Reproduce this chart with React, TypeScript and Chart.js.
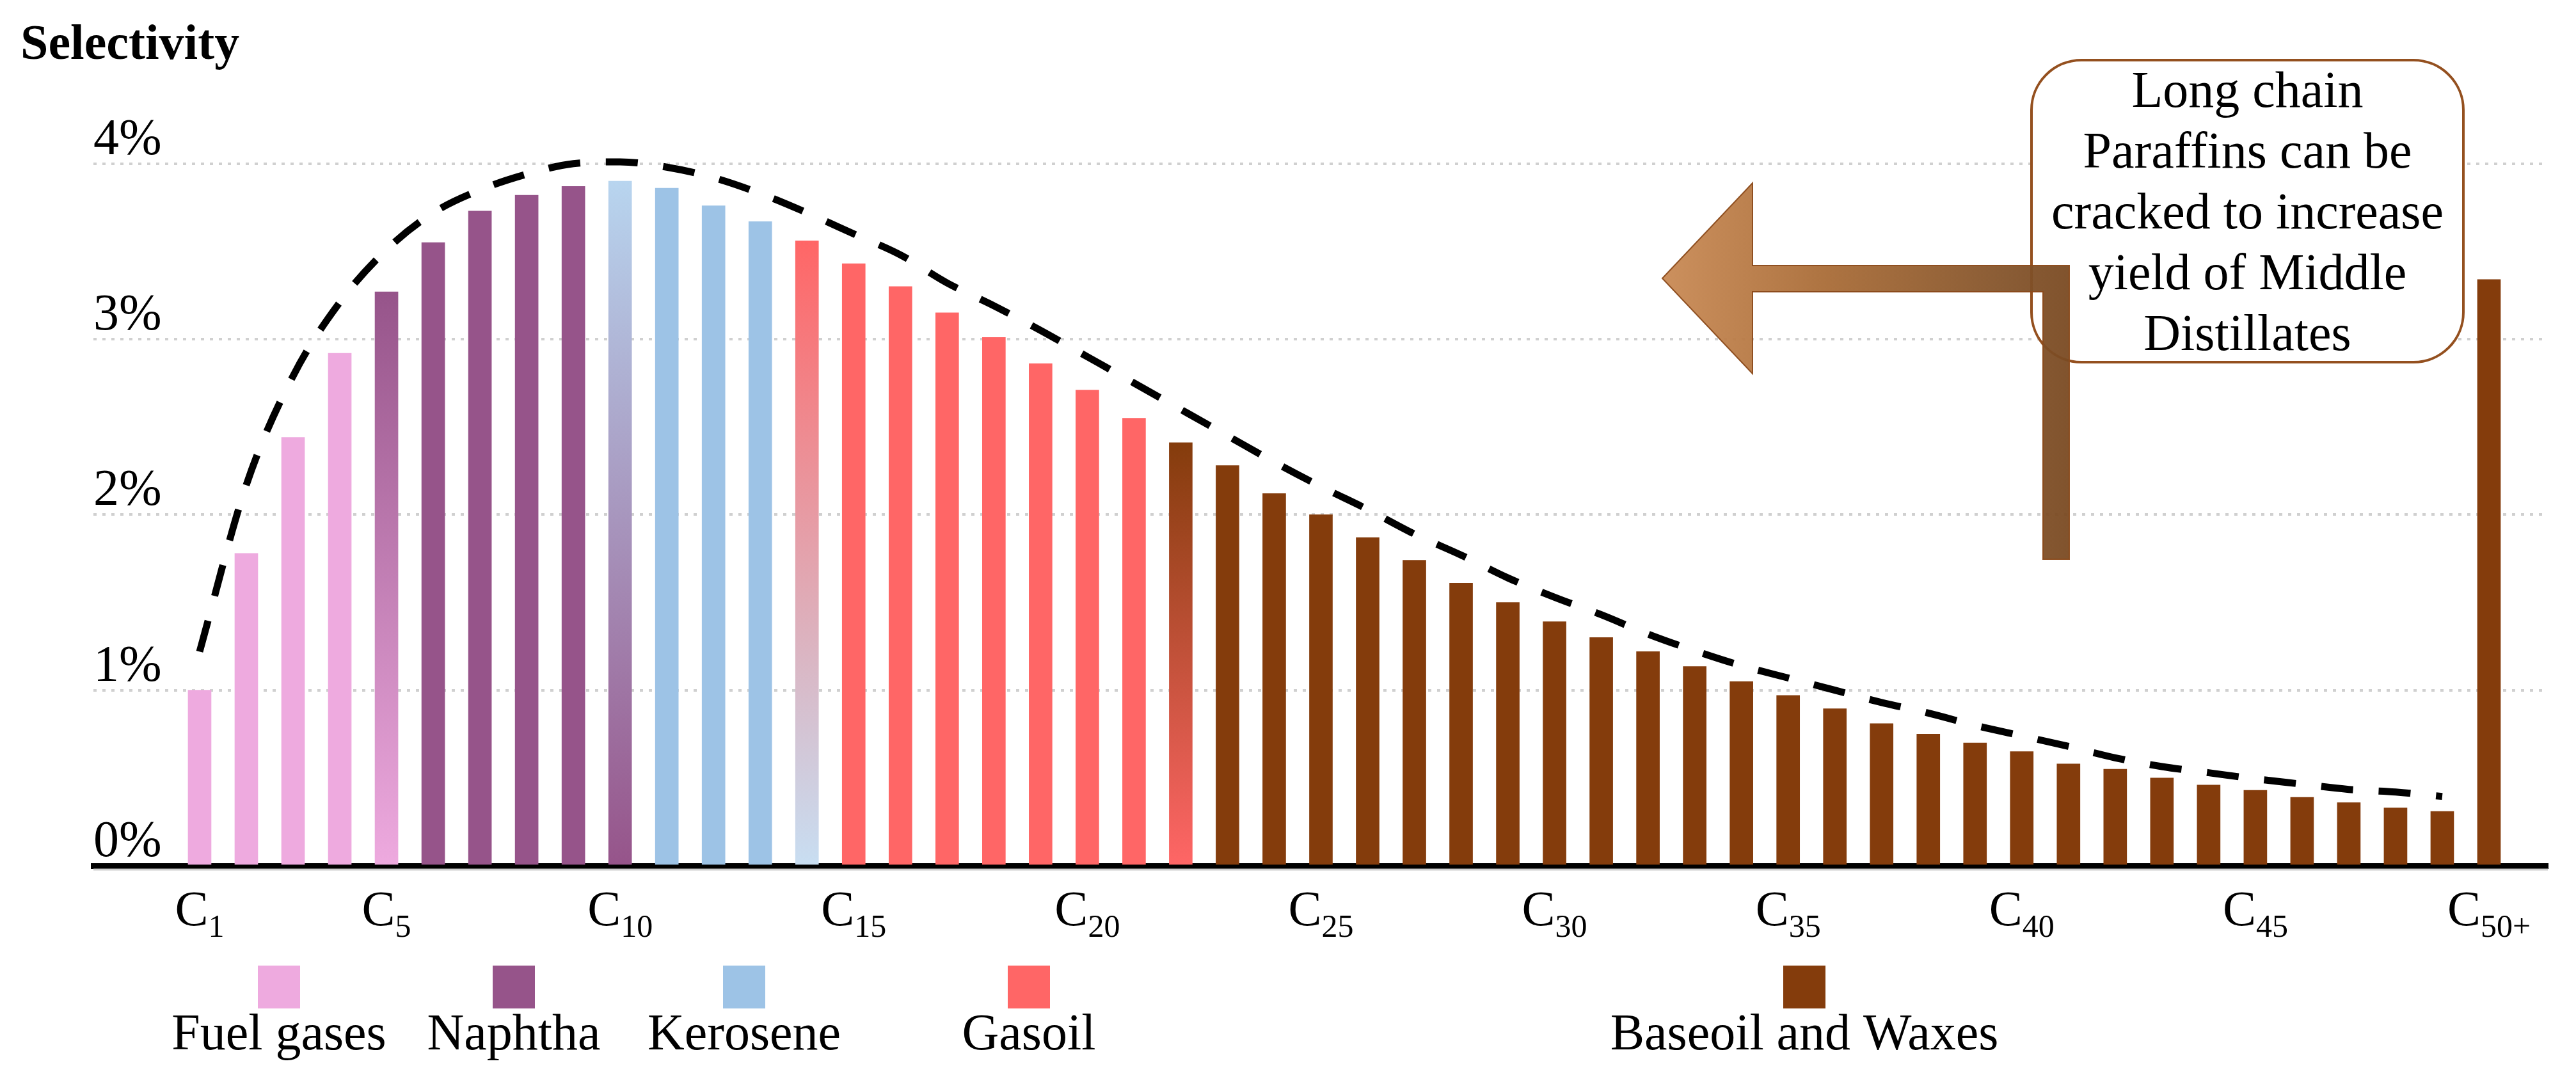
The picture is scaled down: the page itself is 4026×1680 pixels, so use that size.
import React, { useEffect, useRef } from 'react';
import { Chart, registerables } from 'chart.js';

Chart.register(...registerables);

// ---------------- data ----------------
const categories = [
  'C1', 'C2', 'C3', 'C4', 'C5', 'C6', 'C7', 'C8', 'C9', 'C10',
  'C11', 'C12', 'C13', 'C14', 'C15', 'C16', 'C17', 'C18', 'C19', 'C20',
  'C21', 'C22', 'C23', 'C24', 'C25', 'C26', 'C27', 'C28', 'C29', 'C30',
  'C31', 'C32', 'C33', 'C34', 'C35', 'C36', 'C37', 'C38', 'C39', 'C40',
  'C41', 'C42', 'C43', 'C44', 'C45', 'C46', 'C47', 'C48', 'C49', 'C50+',
];

// selectivity per carbon number (%)
const selectivity = [
  1.0, 1.78, 2.44, 2.92, 3.27, 3.55, 3.73, 3.82, 3.87, 3.9,
  3.86, 3.76, 3.67, 3.56, 3.43, 3.3, 3.15, 3.01, 2.86, 2.71,
  2.55, 2.41, 2.28, 2.12, 2.0, 1.87, 1.74, 1.61, 1.5, 1.39,
  1.3, 1.22, 1.135, 1.05, 0.97, 0.895, 0.81, 0.75, 0.7, 0.65,
  0.58, 0.55, 0.5, 0.46, 0.43, 0.39, 0.36, 0.33, 0.31, 3.34,
];

// dashed envelope curve (C1 .. C49)
const envelope = [
  1.22, 2.17, 2.79, 3.21, 3.51, 3.72, 3.85, 3.94, 4.0, 4.01,
  3.98, 3.92, 3.83, 3.72, 3.6, 3.48, 3.32, 3.19, 3.05, 2.9,
  2.75, 2.6, 2.45, 2.3, 2.16, 2.03, 1.89, 1.77, 1.64, 1.53,
  1.43, 1.32, 1.225, 1.14, 1.07, 1.0, 0.93, 0.87, 0.8, 0.74,
  0.68, 0.615, 0.565, 0.53, 0.495, 0.465, 0.435, 0.42, 0.395,
];

const groupNames = ['Fuel gases', 'Naphtha', 'Kerosene', 'Gasoil', 'Baseoil and Waxes'];
const groupLastCategory = ['C5', 'C10', 'C14', 'C22', 'C50+'];

const xTickLabels = ['C1', 'C5', 'C10', 'C15', 'C20', 'C25', 'C30', 'C35', 'C40', 'C45', 'C50+'];
const yTickLabels = ['0%', '1%', '2%', '3%', '4%'];
const yAxisTitle = 'Selectivity';
const calloutLines = ['Long chain', 'Paraffins can be', 'cracked to increase', 'yield of Middle', 'Distillates'];

// ---------------- styles ----------------
const SERIF = '"Liberation Serif", "Times New Roman", serif';
const GROUP_COLORS = ['#EEAADF', '#96548A', '#9DC3E6', '#FF6666', '#843C0C'];
const BLEND_TOP = ['#96548A', '#B8D5EF', '#FF6666', '#843C0C'];
const BLEND_BOTTOM = ['#EEAADF', '#96548A', '#C8DEF2', '#FF6666'];
const LEGEND_X = [436, 803, 1163, 1608, 2820];
const X_MIN = -2.273;
const X_MAX = 50.26;
const Y_MAX = 4.4;

const groupEnds = groupLastCategory.map((c) => categories.indexOf(c));
const groupOf = (i: number) => {
  for (let g = 0; g < groupEnds.length; g++) if (i <= groupEnds[g]) return g;
  return groupEnds.length - 1;
};

const barColor = (ctx: any) => {
  const i = ctx.dataIndex;
  if (i === undefined) return GROUP_COLORS[0];
  const g = groupOf(i);
  const base = GROUP_COLORS[g];
  if (i !== groupEnds[g] || g >= BLEND_TOP.length) return base;
  const chart = ctx.chart;
  const y = chart.scales && chart.scales.y;
  if (!y || !chart.chartArea) return base;
  const top = y.getPixelForValue(selectivity[i]);
  const bottom = y.getPixelForValue(0);
  if (!isFinite(top) || !isFinite(bottom)) return base;
  const grad = chart.ctx.createLinearGradient(0, top, 0, bottom);
  grad.addColorStop(0, BLEND_TOP[g]);
  grad.addColorStop(1, BLEND_BOTTOM[g]);
  return grad;
};

const decor = {
  id: 'decor',
  afterDatasetsDraw(chart: any) {
    const { ctx, chartArea } = chart;
    ctx.save();
    ctx.strokeStyle = '#cfcfcf';
    ctx.lineWidth = 3;
    ctx.beginPath();
    ctx.moveTo(chartArea.left, chartArea.bottom + 6);
    ctx.lineTo(chartArea.right, chartArea.bottom + 6);
    ctx.stroke();
    ctx.restore();
  },
  afterDraw(chart: any) {
    const { ctx, chartArea } = chart;
    const xs = chart.scales.x;
    ctx.save();
    ctx.fillStyle = '#000';
    ctx.textBaseline = 'alphabetic';

    // axis title
    ctx.textAlign = 'left';
    ctx.font = `bold 78px ${SERIF}`;
    ctx.fillText(yAxisTitle, 32, 92);

    // x tick labels with subscripts
    for (const lab of xTickLabels) {
      const i = categories.indexOf(lab);
      const cx = xs.getPixelForValue(i);
      const main = lab.slice(0, 1);
      const sub = lab.slice(1);
      ctx.font = `78px ${SERIF}`;
      const wm = ctx.measureText(main).width;
      ctx.font = `50px ${SERIF}`;
      const ws = ctx.measureText(sub).width;
      const start = cx - (wm + ws) / 2;
      ctx.font = `78px ${SERIF}`;
      ctx.fillText(main, start, chartArea.bottom + 93);
      ctx.font = `50px ${SERIF}`;
      ctx.fillText(sub, start + wm, chartArea.bottom + 111);
    }

    // legend: swatch above label
    ctx.textAlign = 'center';
    ctx.font = `80px ${SERIF}`;
    groupNames.forEach((name, g) => {
      const cx = LEGEND_X[g];
      ctx.fillStyle = GROUP_COLORS[g];
      ctx.fillRect(cx - 33, 1509, 66, 67);
      ctx.fillStyle = '#000';
      ctx.fillText(name, cx, 1640);
    });

    // callout box
    const bx = 3175, by = 94, bw = 675, bh = 472, r = 78;
    ctx.beginPath();
    ctx.moveTo(bx + r, by);
    ctx.arcTo(bx + bw, by, bx + bw, by + bh, r);
    ctx.arcTo(bx + bw, by + bh, bx, by + bh, r);
    ctx.arcTo(bx, by + bh, bx, by, r);
    ctx.arcTo(bx, by, bx + bw, by, r);
    ctx.closePath();
    ctx.fillStyle = '#ffffff';
    ctx.fill();
    ctx.lineWidth = 4;
    ctx.strokeStyle = '#94501F';
    ctx.stroke();

    ctx.fillStyle = '#000';
    ctx.font = `80px ${SERIF}`;
    ctx.textAlign = 'center';
    calloutLines.forEach((line, k) => {
      ctx.fillText(line, bx + bw / 2, 167 + k * 95);
    });

    // L-shaped arrow
    ctx.globalAlpha = 0.95;
    const grad = ctx.createLinearGradient(2598, 0, 3234, 0);
    grad.addColorStop(0, '#C98A55');
    grad.addColorStop(0.4, '#A96C37');
    grad.addColorStop(0.85, '#83532A');
    grad.addColorStop(1, '#7A4A22');
    ctx.beginPath();
    ctx.moveTo(2598, 435);
    ctx.lineTo(2739, 286);
    ctx.lineTo(2739, 415);
    ctx.lineTo(3234, 415);
    ctx.lineTo(3234, 874);
    ctx.lineTo(3193, 874);
    ctx.lineTo(3193, 456);
    ctx.lineTo(2739, 456);
    ctx.lineTo(2739, 584);
    ctx.closePath();
    ctx.fillStyle = grad;
    ctx.fill();
    ctx.lineWidth = 2;
    ctx.strokeStyle = '#8B4A1A';
    ctx.stroke();
    ctx.restore();
  },
};

export default function App() {
  const ref = useRef<HTMLCanvasElement>(null);

  useEffect(() => {
    let chart: any = null;
    let cancelled = false;
    const make = () => {
      if (cancelled || !ref.current) return;
      chart = new Chart(ref.current, {
        type: 'bar',
        data: {
          datasets: [
            {
              type: 'line',
              label: 'envelope',
              data: envelope.map((v, i) => ({ x: i, y: v })),
              borderColor: '#000',
              borderWidth: 11,
              borderDash: [50, 40],
              pointRadius: 0,
              fill: false,
              cubicInterpolationMode: 'monotone',
              order: 0,
            } as any,
            {
              type: 'bar',
              label: 'selectivity',
              data: selectivity.map((v, i) => ({ x: i, y: v })),
              backgroundColor: barColor,
              borderWidth: 0,
              barThickness: 36,
              order: 1,
            } as any,
          ],
        },
        options: {
          responsive: false,
          devicePixelRatio: 1,
          animation: false,
          events: [],
          layout: { padding: { left: 146, right: 44, top: 146, bottom: 327 } },
          plugins: {
            legend: { display: false },
            tooltip: { enabled: false },
            title: { display: false },
          },
          scales: {
            x: {
              type: 'linear',
              min: X_MIN,
              max: X_MAX,
              offset: false,
              z: 1,
              grid: { display: false, drawTicks: false },
              ticks: { display: false },
              border: { display: true, color: '#000', width: 9 },
              afterFit: (s: any) => {
                s.height = 0;
              },
            },
            y: {
              type: 'linear',
              min: 0,
              max: Y_MAX,
              grid: { color: '#d0d0d0', lineWidth: 4, drawTicks: false },
              border: { display: false, dash: [5, 9] },
              ticks: {
                stepSize: 1,
                includeBounds: false,
                mirror: true,
                padding: 0,
                labelOffset: -36,
                color: '#000',
                font: { family: SERIF, size: 80 },
                callback: (v: any) => yTickLabels[Math.round(Number(v))] ?? '',
              },
              afterFit: (s: any) => {
                s.width = 0;
              },
            },
          },
        } as any,
        plugins: [decor],
      });
    };
    const fonts = (document as any).fonts;
    if (fonts && fonts.load) {
      Promise.all([fonts.load(`80px "Liberation Serif"`), fonts.load(`bold 80px "Liberation Serif"`)]).then(make, make);
    } else {
      make();
    }
    return () => {
      cancelled = true;
      if (chart) chart.destroy();
    };
  }, []);

  return (
    <div style={{ position: 'absolute', left: 0, top: 0, width: 4026, height: 1680, background: '#fff' }}>
      <canvas ref={ref} width={4026} height={1680} style={{ width: 4026, height: 1680, display: 'block' }} />
    </div>
  );
}
